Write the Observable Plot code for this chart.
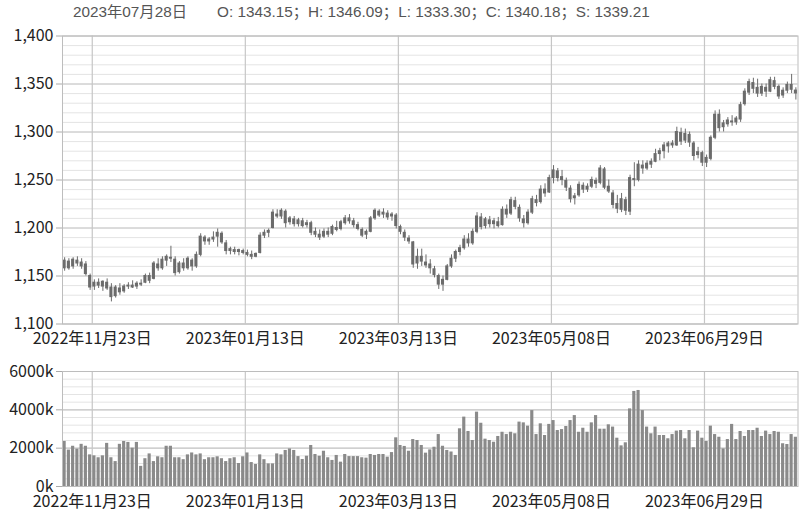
<!DOCTYPE html>
<html><head><meta charset="utf-8">
<script src="https://cdn.jsdelivr.net/npm/d3@7"></script>
<script src="https://cdn.jsdelivr.net/npm/@observablehq/plot@0.6"></script>
<style>
html,body{margin:0;padding:0;background:#fff;}
body{width:809px;height:513px;position:relative;overflow:hidden;}
.hdr{position:absolute;top:3px;font-family:"Liberation Sans","Noto Sans CJK SC",sans-serif;font-size:15.3px;color:#555;white-space:pre;line-height:18px;}
#price{position:absolute;left:0;top:0;}
#vol{position:absolute;left:0;top:355px;}
</style></head>
<body>
<div class="hdr" id="hdate" style="left:73px"></div>
<div class="hdr" id="hvals" style="left:217px"></div>
<div id="price"></div>
<div id="vol"></div>
<script>
// ---- data ----
const open = [1158,1165,1160,1166,1164,1162,1150,1139,1143,1139,1143,1138,1129,1137,1134,1139,1140,1139,1142,1143,
1150,1147,1162,1158,1166,1169,1167,1154,1163,1158,1166,1160,1172,1190,1186,1188,1191,1194,1184,1176,
1177,1175,1176,1174,1172,1170,1174,1192,1195,1200,1214,1212,1217,1206,1209,1204,1207,1203,1205,1196,
1193,1191,1196,1194,1200,1199,1205,1210,1207,1203,1198,1193,1196,1210,1217,1214,1215,1212,1213,1201,
1195,1189,1185,1163,1170,1164,1162,1157,1150,1141,1146,1160,1168,1175,1179,1188,1184,1196,1211,1202,
1208,1204,1206,1203,1219,1215,1228,1221,1209,1205,1216,1229,1227,1240,1237,1252,1259,1253,1249,1241,
1231,1234,1244,1240,1243,1249,1247,1261,1243,1236,1225,1219,1229,1217,1251,1250,1265,1262,1266,1269,
1277,1280,1285,1288,1286,1299,1291,1297,1288,1276,1278,1268,1272,1294,1318,1305,1308,1311,1310,1313,
1329,1341,1351,1346,1340,1346,1342,1353,1347,1338,1343,1349,1343.15];
const high = [1169,1168,1169,1170,1168,1165,1152,1146,1147,1145,1147,1142,1140,1142,1141,1143,1145,1144,1146,1152,
1153,1165,1168,1170,1172,1181,1170,1165,1168,1170,1168,1175,1194,1192,1190,1196,1199,1196,1187,1180,
1180,1178,1178,1177,1176,1174,1195,1198,1199,1219,1219,1220,1219,1212,1212,1210,1210,1208,1207,1200,
1198,1199,1200,1203,1207,1208,1213,1214,1210,1206,1200,1198,1212,1220,1219,1220,1218,1216,1215,1203,
1198,1192,1186,1178,1178,1172,1167,1160,1152,1150,1162,1172,1177,1182,1192,1194,1199,1216,1215,1211,
1212,1210,1211,1222,1224,1232,1232,1224,1213,1219,1233,1234,1244,1246,1255,1265,1262,1260,1252,1244,
1236,1248,1247,1246,1253,1252,1265,1263,1250,1239,1234,1236,1232,1255,1268,1270,1270,1270,1272,1282,
1283,1289,1290,1291,1305,1304,1303,1300,1290,1284,1280,1276,1296,1322,1323,1312,1315,1317,1316,1331,
1345,1355,1356,1355,1350,1350,1357,1357,1349,1346,1352,1360,1346.09];
const low = [1155,1156,1157,1160,1157,1150,1135,1135,1137,1134,1135,1123,1127,1130,1132,1136,1137,1136,1139,1142,
1142,1146,1155,1156,1160,1164,1150,1152,1155,1156,1155,1158,1170,1182,1182,1185,1180,1183,1172,1172,
1172,1171,1172,1170,1167,1169,1173,1189,1190,1199,1210,1209,1200,1203,1201,1201,1200,1200,1192,1190,
1187,1189,1190,1192,1196,1197,1203,1204,1200,1197,1190,1188,1195,1208,1211,1210,1208,1207,1199,1193,
1186,1183,1158,1157,1160,1158,1152,1148,1136,1134,1145,1158,1164,1171,1177,1180,1182,1194,1198,1199,
1200,1199,1200,1202,1210,1213,1219,1206,1200,1203,1214,1222,1225,1232,1236,1246,1248,1244,1238,1226,
1224,1232,1236,1237,1241,1241,1245,1240,1236,1220,1215,1216,1213,1213,1243,1248,1256,1260,1262,1268,
1270,1272,1278,1283,1285,1286,1288,1284,1270,1272,1264,1263,1270,1292,1300,1300,1305,1306,1307,1310,
1327,1338,1340,1336,1337,1336,1341,1344,1334,1335,1340,1340,1333.30];
const close = [1166,1158,1167,1163,1160,1152,1138,1143,1140,1144,1137,1128,1138,1133,1139,1140,1138,1142,1141,1150,
1145,1163,1158,1167,1170,1168,1153,1163,1158,1168,1160,1172,1191,1186,1188,1190,1195,1185,1176,1178,
1175,1177,1174,1172,1170,1173,1192,1195,1197,1216,1212,1218,1205,1210,1204,1208,1202,1205,1195,1193,
1190,1196,1193,1201,1198,1206,1210,1207,1203,1199,1192,1196,1210,1218,1213,1216,1211,1214,1202,1196,
1190,1186,1162,1170,1165,1161,1158,1151,1141,1146,1160,1168,1175,1179,1188,1184,1196,1212,1201,1209,
1204,1207,1202,1219,1214,1229,1222,1210,1205,1216,1230,1226,1240,1236,1252,1260,1252,1250,1242,1230,
1233,1245,1240,1243,1250,1246,1262,1242,1238,1224,1220,1230,1218,1252,1250,1266,1262,1267,1269,1277,
1280,1286,1288,1286,1300,1290,1298,1289,1275,1279,1268,1273,1294,1318,1304,1309,1312,1310,1314,1328,
1342,1352,1345,1340,1347,1342,1354,1347,1337,1343,1349,1344,1340.18];
// volume in thousands
const volume = [2350,1900,2100,1950,2200,2100,1650,1600,1500,1600,
2250,1500,1300,2200,2350,2300,2000,2300,1050,1450,
1700,1300,1550,1500,2100,2100,1500,1500,1400,1650,
1750,1650,1700,1400,1500,1500,1550,1450,1300,1450,
1500,1200,1550,1750,1250,1150,1650,1400,1180,1180,
1700,1650,1880,1960,1880,1560,1410,1580,2140,1670,
1580,1840,1500,1360,1620,1270,1670,1560,1560,1560,
1500,1480,1670,1620,1670,1670,1530,1770,2540,2140,
2090,1840,2450,2400,2140,1740,1910,2050,2710,2100,
1880,1800,1620,3010,3620,2870,2400,3880,3300,2470,
2400,2310,2610,2830,2710,2830,2750,3360,3320,3150,
3960,2710,3270,2660,3240,3440,2920,2970,3130,3440,
3700,2830,3040,2830,3320,3700,2990,2990,3220,3100,
2520,2120,2280,4050,4960,5010,3960,3100,2750,3100,
2660,2660,2490,2710,2890,2920,2490,2920,2020,2890,
2520,2350,3150,2710,2570,1960,2450,3240,2450,2870,
2610,2920,2920,3040,2610,2890,2710,2870,2830,2230,
2190,2710,2570];
// trading-day index of each labelled date, and its label
const tickIdx = [7, 43, 79, 115, 151];
const tickLabels = ["2022年11月23日","2023年01月13日","2023年03月13日","2023年05月08日","2023年06月29日"];
const priceTicks = [1100,1150,1200,1250,1300,1350,1400];
const volTicks = [0,2000,4000,6000];
const headerDate = "2023年07月28日";
const headerKeys = ["O","H","L","C","S"];
const headerVals = ["1343.15","1346.09","1333.30","1340.18","1339.21"];

// ---- build ----
const data = close.map((c, i) => ({i, o: open[i], h: high[i], l: low[i], c, v: volume[i]}));
const N = data.length;
const xDom = [0, N];
const W = 809;
const font = '"Noto Sans CJK SC","Noto Sans",sans-serif';
const candle = "#6b6b6b";
const labelFmt = d => tickLabels[tickIdx.indexOf(d)];

document.getElementById("hdate").textContent = headerDate;
document.getElementById("hvals").textContent = headerKeys.map((k, j) => `${k}: ${headerVals[j]}`).join("；");

const price = Plot.plot({
  width: W, height: 360,
  marginLeft: 62, marginRight: 11.5, marginTop: 35.5, marginBottom: 36.5,
  x: {domain: xDom, axis: null},
  y: {domain: [1100, 1400], axis: null},
  style: {fontFamily: font, fontSize: "16px", color: "#222", background: "transparent", overflow: "visible"},
  marks: [
    Plot.ruleY(d3.range(1100, 1401, 10), {stroke: "#e4e4e4", strokeWidth: 1}),
    Plot.ruleY(priceTicks, {stroke: "#c6c6c6", strokeWidth: 1.2}),
    Plot.ruleX(tickIdx, {stroke: "#c6c6c6", strokeWidth: 1.2}),
    Plot.ruleX(data, {x: d => d.i + 0.5, y1: "l", y2: "h", stroke: candle, strokeWidth: 1}),
    Plot.rect(data, {x1: d => d.i + 0.5 - 0.36, x2: d => d.i + 0.5 + 0.36,
      y1: d => Math.min(d.o, d.c), y2: d => Math.max(d.o, d.c), fill: candle, insetTop: -0.5, insetBottom: -0.5}),
    Plot.frame({stroke: "#bdbdbd"}),
    Plot.axisY(priceTicks, {label: null, tickSize: 6, tickPadding: 3, tickFormat: d3.format(","), stroke: "#aaa", fill: "#222"}),
    Plot.axisX(tickIdx, {label: null, tickSize: 0, tickPadding: 9, tickFormat: labelFmt, fill: "#222"})
  ]
});
document.getElementById("price").appendChild(price);

const vol = Plot.plot({
  width: W, height: 158,
  marginLeft: 62, marginRight: 11.5, marginTop: 16, marginBottom: 27,
  x: {domain: xDom, axis: null},
  y: {domain: [0, 6000], axis: null},
  style: {fontFamily: font, fontSize: "16px", color: "#222", background: "transparent", overflow: "visible"},
  marks: [
    Plot.ruleY(d3.range(0, 6001, 400), {stroke: "#e4e4e4", strokeWidth: 1}),
    Plot.ruleY(volTicks, {stroke: "#c6c6c6", strokeWidth: 1.2}),
    Plot.ruleX(tickIdx, {stroke: "#c6c6c6", strokeWidth: 1.2}),
    Plot.rectY(data, {x1: d => d.i + 0.5 - 0.37, x2: d => d.i + 0.5 + 0.37, y: "v", fill: "#8a8a8a"}),
    Plot.frame({stroke: "#bdbdbd"}),
    Plot.axisY(volTicks, {label: null, tickSize: 6, tickPadding: 3, tickFormat: d => d + "k", stroke: "#aaa", fill: "#222"}),
    Plot.axisX(tickIdx, {label: null, tickSize: 0, tickPadding: 9, tickFormat: labelFmt, fill: "#222"})
  ]
});
document.getElementById("vol").appendChild(vol);
</script>
</body></html>
